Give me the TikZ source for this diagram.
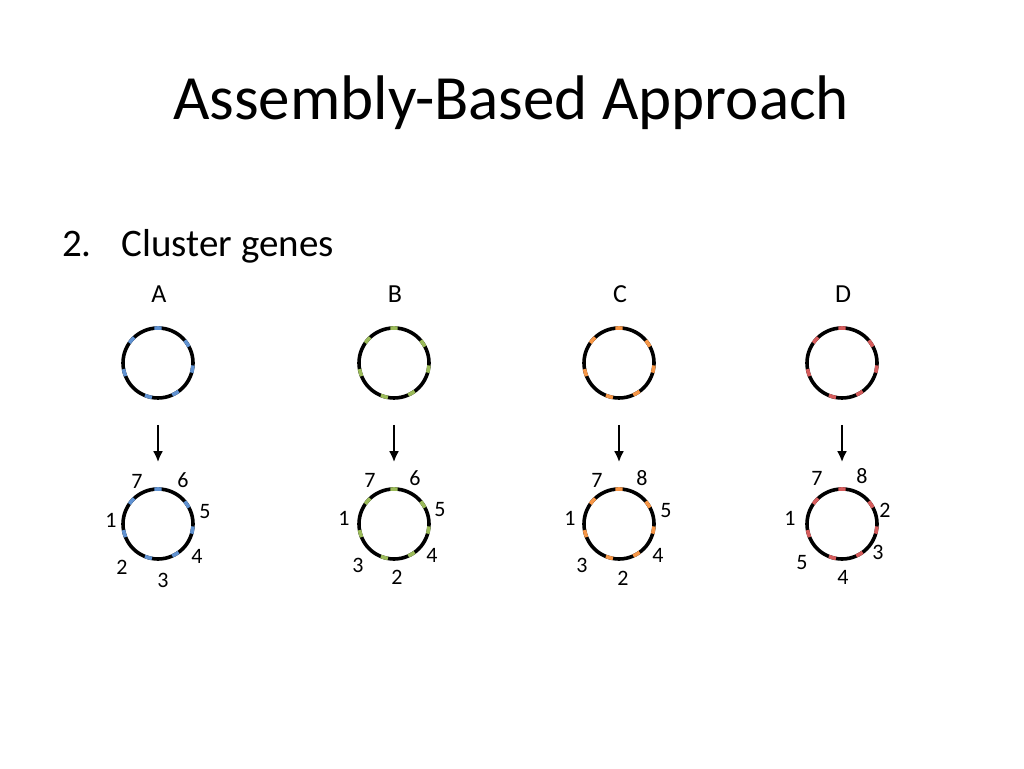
\documentclass[tikz,border=0pt]{standalone}
\usepackage{fontspec}
\setmainfont{Carlito}
\usepackage{tikz}
\usetikzlibrary{positioning, arrows.meta}

\definecolor{geneblue}{RGB}{96,146,210}
\definecolor{genegreen}{RGB}{155,187,89}
\definecolor{geneorange}{RGB}{247,150,70}
\definecolor{genered}{RGB}{214,92,92}

\begin{document}
\begin{tikzpicture}[x=1pt, y=1pt,
    ring/.style={circle, draw=black, line width=3.6pt, minimum size=70pt, inner sep=0pt},
    genenum/.style={font=\fontsize{22}{22}\selectfont, inner sep=0pt},
    letter/.style={font=\fontsize{26}{26}\selectfont, inner sep=0pt},
    down/.style={-{Latex[length=11pt, width=10pt]}, line width=2.6pt, shorten <=25pt, shorten >=25pt}]
            \useasboundingbox (0,0) rectangle (1024,768);

            % Texts
            \node[font=\fontsize{63}{63}\selectfont, inner sep=0pt] (title) at (511,665) {Assembly-Based Approach};
            \node[font=\fontsize{39}{39}\selectfont, inner sep=0pt, anchor=base west] (step) at (62,511) {2.\hspace{30pt}Cluster genes};

            % Nodes
            \foreach \n/\x in {A/158,B/394,C/619,D/842} {
                \node[letter] (l\n) at (\x+1,474) {\n};
                \node[ring] (t\n) at (\x,405) {};
                \node[ring] (b\n) at (\x,244) {};
                \draw[down] (t\n) -- (b\n);
            }

            % gene marks
            \foreach \n/\c in {A/geneblue,B/genegreen,C/geneorange,D/genered} {
                \foreach \a in {90,34,-10,-60,-106,196,139} {
                    \draw[\c, line width=3.6pt] ([shift={(\a-6:35)}]t\n.center) arc[start angle=\a-6, end angle=\a+6, radius=35];
                    \draw[\c, line width=3.6pt] ([shift={(\a-6:35)}]b\n.center) arc[start angle=\a-6, end angle=\a+6, radius=35];
                }
            }

            % gene numbers
            \foreach \n/\k/\x/\y in {A/7/137/287, A/6/183/288, A/5/205/256, A/4/197/212, A/3/163/188, A/2/122/201, A/1/111/248,
                                     B/7/370/288, B/6/415/290, B/5/440/258, B/4/432/213, B/2/397/191, B/3/358/203, B/1/344/250,
                                     C/7/597/288, C/8/642/290, C/5/666/257, C/4/658/213, C/2/623/190, C/3/582/203, C/1/570/250,
                                     D/7/817/290, D/8/862/292, D/2/885/258, D/3/878/216, D/4/843/191, D/5/802/205, D/1/790/250} {
                \node[genenum] (n\n\k) at (\x,\y) {\k};
            }
        \end{tikzpicture}
\end{document}
